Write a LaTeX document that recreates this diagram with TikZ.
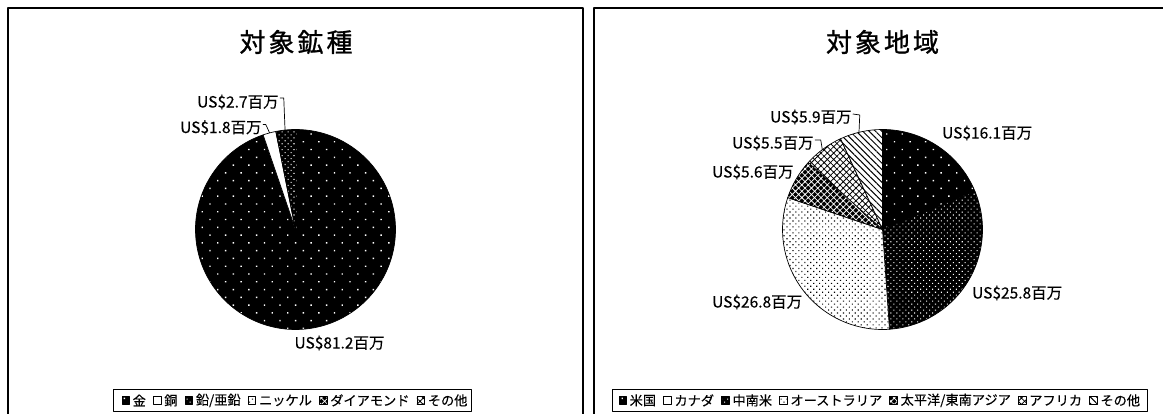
\documentclass[tikz,border=0pt]{standalone}
\usepackage{fontspec}
\setmainfont{Noto Sans CJK JP}
\newfontfamily\ttlfont[FakeBold=1.0]{Noto Sans CJK JP}
\newfontfamily\labfont[FakeBold=0.3]{Noto Sans CJK JP}
\newfontfamily\legfont[FakeBold=0.3]{Noto Sans CJK JP}
\usetikzlibrary{patterns.meta,positioning,calc}
\begin{document}
\begin{tikzpicture}[x=1pt,y=1pt,line join=round,
  frame/.style={draw=black,line width=1.2pt},
  slice/.style={draw=black,line width=0.7pt},
  sparseB/.style={preaction={fill=black},pattern={Dots[distance=11pt,angle=45,radius=1pt]},pattern color=white},
  denseB/.style={preaction={fill=black},pattern={Dots[distance=4.2pt,angle=45,radius=0.75pt]},pattern color=white},
  denseW/.style={preaction={fill=white},pattern={Dots[distance=4.2pt,angle=45,radius=0.8pt]},pattern color=black},
  darkX/.style={preaction={fill=black},pattern={Hatch[distance=4.5pt,angle=45,line width=0.75pt]},pattern color=white},
  lightX/.style={preaction={fill=white},pattern={Hatch[distance=4.5pt,angle=45,line width=0.8pt]},pattern color=black},
  diagL/.style={preaction={fill=white},pattern={Lines[distance=4.5pt,angle=-45,line width=1pt]},pattern color=black},
  plain/.style={fill=white},
  title/.style={font=\ttlfont\fontsize{26}{28}\selectfont,inner sep=0pt},
  lab/.style={font=\labfont\fontsize{15.5}{18}\selectfont,inner sep=0pt},
  leader/.style={draw=black,line width=0.7pt},
  legbox/.style={draw=black,line width=0.8pt,inner sep=0pt,anchor=north west},
  icon/.style={draw=black,line width=0.5pt,minimum size=7.5pt,inner sep=0pt},
  legtxt/.style={font=\legfont\fontsize{13.2}{15}\selectfont,inner sep=0pt},
]
\useasboundingbox (0,0) rectangle (1163,-414);
% panel frames
\draw[frame] (8,-430) |- (583,-8) -- (583,-430);
\draw[frame] (594,-430) |- (1175,-8);

% titles
\node[title] (tL) at (296,-42) {対\kern3pt 象\kern3pt 鉱\kern3pt 種};
\node[title] (tR) at (882.5,-42) {対\kern3pt 象\kern3pt 地\kern3pt 域};

% ---------- left pie ----------
\coordinate (pL) at (295.5,-229.5);
\path[slice,sparseB] (pL) -- ++(90:100) arc[start angle=90,end angle=-251.1,radius=100] -- cycle;
\path[slice,plain] (pL) -- ++(-251.1:100) arc[start angle=-251.1,end angle=-258.66,radius=100] -- cycle;
\path[slice,denseB] (pL) -- ++(-258.66:100) arc[start angle=-258.66,end angle=-270,radius=100] -- cycle;

\node[lab,anchor=west] (l27) at (197,-102) {US\$2.7百万};
\node[lab,anchor=west] (l18) at (180,-127.5) {US\$1.8百万};
\node[lab] (l812) at (339.5,-343) {US\$81.2百万};
\coordinate (c27) at ($(pL)+(96:100)$);
\coordinate (c18) at ($(pL)+(105:100)$);
\draw[leader] ([xshift=1pt,yshift=4pt]l27.east) -- ++(4,0) -- (c27);
\draw[leader] ([xshift=1pt,yshift=3pt]l18.east) -- ++(3,0) -- (c18);

% ---------- right pie ----------
\coordinate (pR) at (882.5,-229.5);
\path[slice,sparseB] (pR) -- ++(90:100) arc[start angle=90,end angle=22.37,radius=100] -- cycle;
\path[slice,denseB] (pR) -- ++(22.37:100) arc[start angle=22.37,end angle=-86.0,radius=100] -- cycle;
\path[slice,denseW] (pR) -- ++(-86.0:100) arc[start angle=-86.0,end angle=-198.6,radius=100] -- cycle;
\path[slice,darkX] (pR) -- ++(-198.6:100) arc[start angle=-198.6,end angle=-222.1,radius=100] -- cycle;
\path[slice,lightX] (pR) -- ++(-222.1:100) arc[start angle=-222.1,end angle=-245.2,radius=100] -- cycle;
\path[slice,diagL] (pR) -- ++(-245.2:100) arc[start angle=-245.2,end angle=-270,radius=100] -- cycle;

\node[lab,anchor=west] (r59) at (770,-117) {US\$5.9百万};
\node[lab,anchor=west] (r161) at (942,-133) {US\$16.1百万};
\node[lab,anchor=west] (r55) at (732,-143) {US\$5.5百万};
\node[lab,anchor=west] (r56) at (712,-172) {US\$5.6百万};
\node[lab,anchor=west] (r258) at (972,-293) {US\$25.8百万};
\node[lab,anchor=west] (r268) at (712,-302) {US\$26.8百万};
\coordinate (c59) at ($(pR)+(103.6:100)$);
\coordinate (c55) at ($(pR)+(127:100)$);
\draw[leader] ([xshift=1pt,yshift=3pt]r59.east) -- ++(7,-1) -- (c59);
\draw[leader] ([xshift=1pt,yshift=3pt]r55.east) -- ++(6,0) -- (c55);

% ---------- left legend ----------
\node[legbox,minimum width=358pt,minimum height=22pt] (legL) at (113,-389) {};
\node[icon,sparseB] (a1) at ([xshift=12.5pt]legL.west) {};
\node[legtxt,right=3pt of a1] (b1) {金};
\node[icon,plain,right=7pt of b1] (a2) {};
\node[legtxt,right=3pt of a2] (b2) {銅};
\node[icon,denseB,right=7pt of b2] (a3) {};
\node[legtxt,right=3pt of a3] (b3) {鉛/亜鉛};
\node[icon,denseW,right=7pt of b3] (a4) {};
\node[legtxt,right=3pt of a4] (b4) {ニッケル};
\node[icon,darkX,right=7pt of b4] (a5) {};
\node[legtxt,right=3pt of a5] (b5) {ダイアモンド};
\node[icon,lightX,right=7pt of b5] (a6) {};
\node[legtxt,right=3pt of a6] (b6) {その他};

% ---------- right legend ----------
\node[legbox,minimum width=535pt,minimum height=22pt] (legR) at (612,-389) {};
\node[icon,sparseB] (e1) at ([xshift=10.5pt]legR.west) {};
\node[legtxt,right=3pt of e1] (f1) {米国};
\node[icon,plain,right=7pt of f1] (e2) {};
\node[legtxt,right=3pt of e2] (f2) {カナダ};
\node[icon,denseB,right=7pt of f2] (e3) {};
\node[legtxt,right=3pt of e3] (f3) {中南米};
\node[icon,denseW,right=7pt of f3] (e4) {};
\node[legtxt,right=3pt of e4] (f4) {オーストラリア};
\node[icon,darkX,right=7pt of f4] (e5) {};
\node[legtxt,right=3pt of e5] (f5) {太平洋/東南アジア};
\node[icon,lightX,right=7pt of f5] (e6) {};
\node[legtxt,right=3pt of e6] (f6) {アフリカ};
\node[icon,diagL,right=7pt of f6] (e7) {};
\node[legtxt,right=3pt of e7] (f7) {その他};
\end{tikzpicture}
\end{document}
